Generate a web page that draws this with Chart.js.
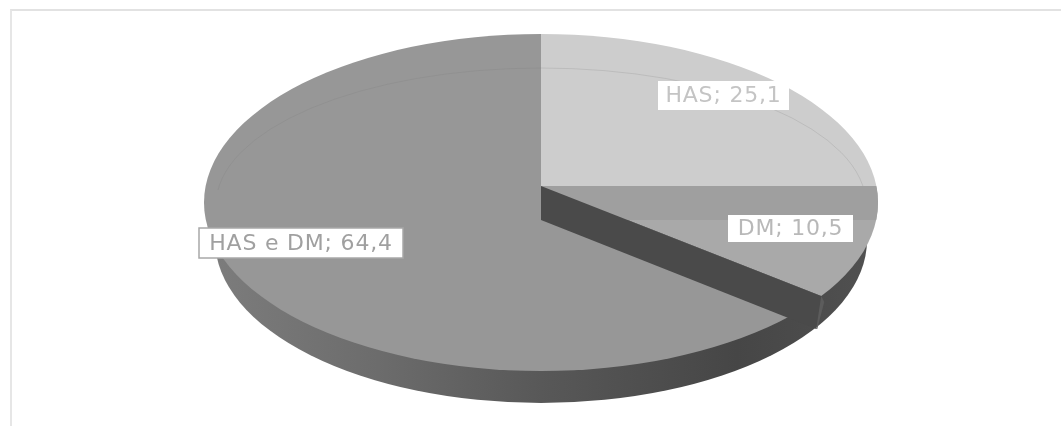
<!DOCTYPE html>
<html>
<head>
<meta charset="utf-8">
<script src="https://cdn.jsdelivr.net/npm/chart.js@4/dist/chart.umd.min.js"></script>
<style>
html, body { margin: 0; background: #fff; overflow: hidden; }
#frame { position: absolute; left: 10px; top: 9px; width: 1051px; height: 417px;
         border-left: 2px solid #e6e6e6; border-top: 2px solid #e2e2e2; box-sizing: border-box; }
canvas { position: absolute; left: 0; top: 0; filter: blur(0.6px); }
</style>
</head>
<body>
<div id="frame"></div>
<canvas id="pie" width="1061" height="426"></canvas>
<script>
const categories = ['HAS', 'DM', 'HAS e DM'];
const values = [25.1, 10.5, 64.4];
const colors = ['#cdcdcd', '#a9a9a9', '#979797'];

// geometry of the tilted disc, in page pixels
const disc = { x: 541, y: 202.5, rx: 337, ry: 168.5, apexY: 186, depth: 34 };
const base = { x: 541, y: 240, rx: 326, ry: 163 };
const overscan = 1.15;
const label_boxes = [
    { x: 658, y: 81, w: 131, h: 29, color: '#c4c4c4', border: null },
    { x: 728, y: 215, w: 125, h: 27, color: '#b8b8b8', border: null },
    { x: 199, y: 228, w: 204, h: 30, color: '#a0a0a0', border: '#a8a8a8' }
];

function disc_path(ctx) {
    ctx.beginPath();
    ctx.ellipse(disc.x, disc.y, disc.rx, disc.ry, 0, 0, Math.PI * 2);
}

// where the slice edge at this angle meets the rim of the disc
function rim_point(angle) {
    let c = Math.cos(angle),
        s = Math.sin(angle),
        v0 = (disc.apexY - disc.y) / disc.ry,
        b = v0 * s,
        t = -b + Math.sqrt(b * b - v0 * v0 + 1);
    return { x: disc.x + t * c * disc.rx, y: disc.apexY + t * s * disc.ry };
}

const tilted_disc = {
    id: 'tilted_disc',
    beforeDatasetsDraw(chart) {
        let ctx = chart.ctx,
            arc = chart.getDatasetMeta(0).data[0];

        // side wall below the top face
        let wall = ctx.createLinearGradient(base.x - base.rx, 0, base.x + base.rx, 0);
        wall.addColorStop(0, '#7c7c7c');
        wall.addColorStop(0.25, '#6c6c6c');
        wall.addColorStop(0.5, '#585858');
        wall.addColorStop(0.8, '#464646');
        wall.addColorStop(1, '#505050');
        ctx.fillStyle = wall;
        ctx.beginPath();
        ctx.ellipse(base.x, base.y, base.rx, base.ry, 0, 0, Math.PI * 2);
        ctx.fill();

        // slices: same centre as the arcs, clipped to the rim
        ctx.save();
        disc_path(ctx);
        ctx.clip();
        let scale_x = disc.rx * overscan / arc.outerRadius,
            scale_y = disc.ry / disc.rx * scale_x;
        ctx.translate(disc.x, disc.apexY);
        ctx.scale(scale_x, scale_y);
        ctx.translate(-arc.x, -arc.y);
    },
    afterDatasetsDraw(chart) {
        let ctx = chart.ctx,
            edge = rim_point(chart.getDatasetMeta(0).data[1].endAngle);
        ctx.restore();

        // faint inner ring
        ctx.save();
        ctx.beginPath();
        ctx.rect(0, 0, 1061, 190);
        ctx.clip();
        ctx.strokeStyle = 'rgba(120,120,120,0.2)';
        ctx.lineWidth = 1;
        ctx.beginPath();
        ctx.ellipse(541, 205, 325, 137, 0, 0, Math.PI * 2);
        ctx.stroke();
        ctx.restore();

        // cut faces of the slices
        ctx.save();
        disc_path(ctx);
        ctx.clip();
        ctx.fillStyle = '#9f9f9f';
        ctx.fillRect(disc.x, disc.apexY, disc.rx, disc.depth);
        ctx.restore();

        ctx.fillStyle = '#4a4a4a';
        ctx.beginPath();
        ctx.moveTo(disc.x, disc.apexY);
        ctx.lineTo(edge.x, edge.y);
        ctx.lineTo(edge.x - 5, edge.y + disc.depth - 1);
        ctx.lineTo(disc.x, disc.apexY + disc.depth);
        ctx.closePath();
        ctx.fill();

        ctx.fillStyle = '#5c5c5c';
        ctx.beginPath();
        ctx.moveTo(edge.x, edge.y);
        ctx.lineTo(edge.x + 3, edge.y + 6);
        ctx.lineTo(edge.x - 4, edge.y + disc.depth - 1);
        ctx.lineTo(edge.x - 5, edge.y + disc.depth - 1);
        ctx.closePath();
        ctx.fill();

        // data labels
        ctx.font = '22px "DejaVu Sans"';
        ctx.letterSpacing = '0.8px';
        ctx.textAlign = 'center';
        ctx.textBaseline = 'middle';
        label_boxes.forEach((box, i) => {
            ctx.fillStyle = '#fff';
            ctx.fillRect(box.x, box.y, box.w, box.h);
            if (box.border) {
                ctx.strokeStyle = box.border;
                ctx.lineWidth = 1.5;
                ctx.strokeRect(box.x, box.y, box.w, box.h);
            }
            ctx.fillStyle = box.color;
            let text = categories[i] + '; ' + String(values[i]).replace('.', ',');
            ctx.fillText(text, box.x + box.w / 2, box.y + box.h / 2 + 1);
        });
    }
};

new Chart(document.getElementById('pie'), {
    type: 'pie',
    data: {
        labels: categories,
        datasets: [{ data: values, backgroundColor: colors, borderWidth: 0 }]
    },
    options: {
        responsive: false,
        animation: false,
        plugins: { legend: { display: false }, tooltip: { enabled: false } }
    },
    plugins: [tilted_disc]
});
</script>
</body>
</html>
